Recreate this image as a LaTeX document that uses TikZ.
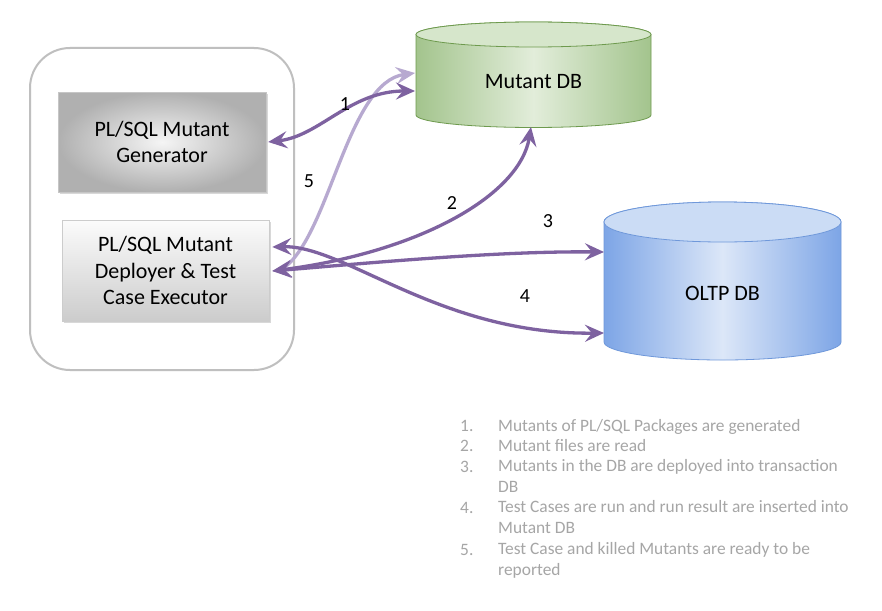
\documentclass[tikz,border=0pt]{standalone}
\usepackage{fontspec}
\setmainfont{Carlito}
\usetikzlibrary{arrows.meta,shadows}
\definecolor{arr}{HTML}{7E62A0}
\definecolor{arrfade}{HTML}{B7A9D0}
\definecolor{frameg}{HTML}{BFBFBF}
\definecolor{listg}{HTML}{A6A6A6}
\definecolor{grnE}{HTML}{A3C48D}
\definecolor{grnM}{HTML}{E2EDDA}
\definecolor{grnT}{HTML}{D6E6CB}
\definecolor{grnB}{HTML}{6E9A4E}
\definecolor{bluE}{HTML}{7DA5E6}
\definecolor{bluM}{HTML}{DCE7F8}
\definecolor{bluT}{HTML}{CBDCF5}
\definecolor{bluB}{HTML}{6F98DA}
\begin{document}
\begin{tikzpicture}[x=1pt,y=-1pt,
  conn/.style={draw=arr,line width=3.3pt,{Stealth[length=19pt,width=17pt,inset=7pt]}-{Stealth[length=19pt,width=17pt,inset=7pt]}},
  connfade/.style={draw=arrfade,line width=3.3pt,-{Stealth[length=19pt,width=17pt,inset=7pt]}},
  lbl/.style={font=\fontsize{22}{26.7}\selectfont,align=center,inner sep=0pt},
  num/.style={font=\fontsize{20}{24}\selectfont,inner sep=0pt},
  item/.style={font=\fontsize{17.4}{20.6}\selectfont,text=listg,align=left,anchor=base west,inner sep=0pt},
  framebox/.style={draw=frameg,line width=2pt,rounded corners=40pt,minimum width=264pt,minimum height=322pt},
  genbox/.style={lbl,minimum width=208pt,minimum height=100pt,inner color=gray!8,outer color=gray!62,draw=gray!45,line width=0.4pt,
     drop shadow={opacity=0.3,shadow xshift=2pt,shadow yshift=-2pt}},
  depbox/.style={lbl,minimum width=207pt,minimum height=101pt,top color=gray!3,bottom color=gray!40,draw=gray!40,line width=0.6pt,
     drop shadow={opacity=0.3,shadow xshift=2pt,shadow yshift=-2pt}}
]
\useasboundingbox (0,0) rectangle (882,610);
\fill[white] (0,0) rectangle (882,610);

% frame and boxes
\node[framebox] (frame) at (162,209) {};
\node[genbox] (gen) at (162,142) {PL/SQL Mutant\\Generator};
\node[depbox] (dep) at (165.5,270.5) {PL/SQL Mutant\\Deployer \& Test\\Case Executor};

% Mutant DB cylinder
\path[left color=grnE,right color=grnE,middle color=grnM,draw=grnB,line width=0.8pt]
  (416,34.5) -- (416,115) arc[start angle=180,end angle=360,x radius=117.5pt,y radius=12.5pt]
  -- (651,34.5) arc[start angle=0,end angle=180,x radius=117.5pt,y radius=12.5pt] -- cycle;
\draw[fill=grnT,draw=grnB,line width=0.8pt] (533.5,34.5) ellipse[x radius=117.5pt,y radius=12.5pt];
\node[lbl] (mdb) at (533.5,82) {Mutant DB};

% OLTP DB cylinder
\path[left color=bluE,right color=bluE,middle color=bluM,draw=bluB,line width=0.8pt]
  (604,222) -- (604,342) arc[start angle=180,end angle=360,x radius=118.5pt,y radius=18pt]
  -- (841,222) arc[start angle=0,end angle=180,x radius=118.5pt,y radius=20pt] -- cycle;
\draw[fill=bluT,draw=bluB,line width=0.8pt] (722.5,222) ellipse[x radius=118.5pt,y radius=20pt];
\node[lbl] (oltp) at (722.5,293) {OLTP DB};

% connector end points
\coordinate (m1) at (415,91);
\coordinate (m5) at (415,73);
\coordinate (m2) at (531,127);
\coordinate (o3) at (604,252);
\coordinate (o4) at (604,333);
\coordinate (d5) at (285,267);

% connectors
\draw[connfade] (d5) .. controls (330,232) and (348,82) .. (m5);
\draw[conn] ([xshift=2pt]gen.east) .. controls (320,136) and (350,91) .. (m1);
\draw[conn] ([xshift=3pt,yshift=-0.5pt]dep.east) .. controls (420,252) and (520,195) .. (m2);
\draw[conn] ([xshift=3pt,yshift=-0.5pt]dep.east) .. controls (380,262) and (500,251) .. (o3);
\draw[conn] ([xshift=3pt,yshift=23.5pt]dep.east) .. controls (345,245) and (440,335) .. (o4);

% step numbers
\node[num] (n1) at (345,104) {1};
\node[num] (n5) at (309,181) {5};
\node[num] (n2) at (452,203) {2};
\node[num] (n3) at (548,221) {3};
\node[num] (n4) at (525,296) {4};

% legend (base anchor of a multi-line node is its last line)
\node[item] (k1) at (460,431.5) {1.};
\node[item] (t1) at (498,431.5) {Mutants of PL/SQL Packages are generated};
\node[item] (k2) at (460,451.5) {2.};
\node[item] (t2) at (498,451.5) {Mutant files are read};
\node[item] (k3) at (460,472) {3.};
\node[item] (t3) at (498,492.5) {Mutants in the DB are deployed into transaction\\DB};
\node[item] (k4) at (460,513.5) {4.};
\node[item] (t4) at (498,533.5) {Test Cases are run and run result are inserted into\\Mutant DB};
\node[item] (k5) at (460,555) {5.};
\node[item] (t5) at (498,575.5) {Test Case and killed Mutants are ready to be\\reported};
\end{tikzpicture}
\end{document}
